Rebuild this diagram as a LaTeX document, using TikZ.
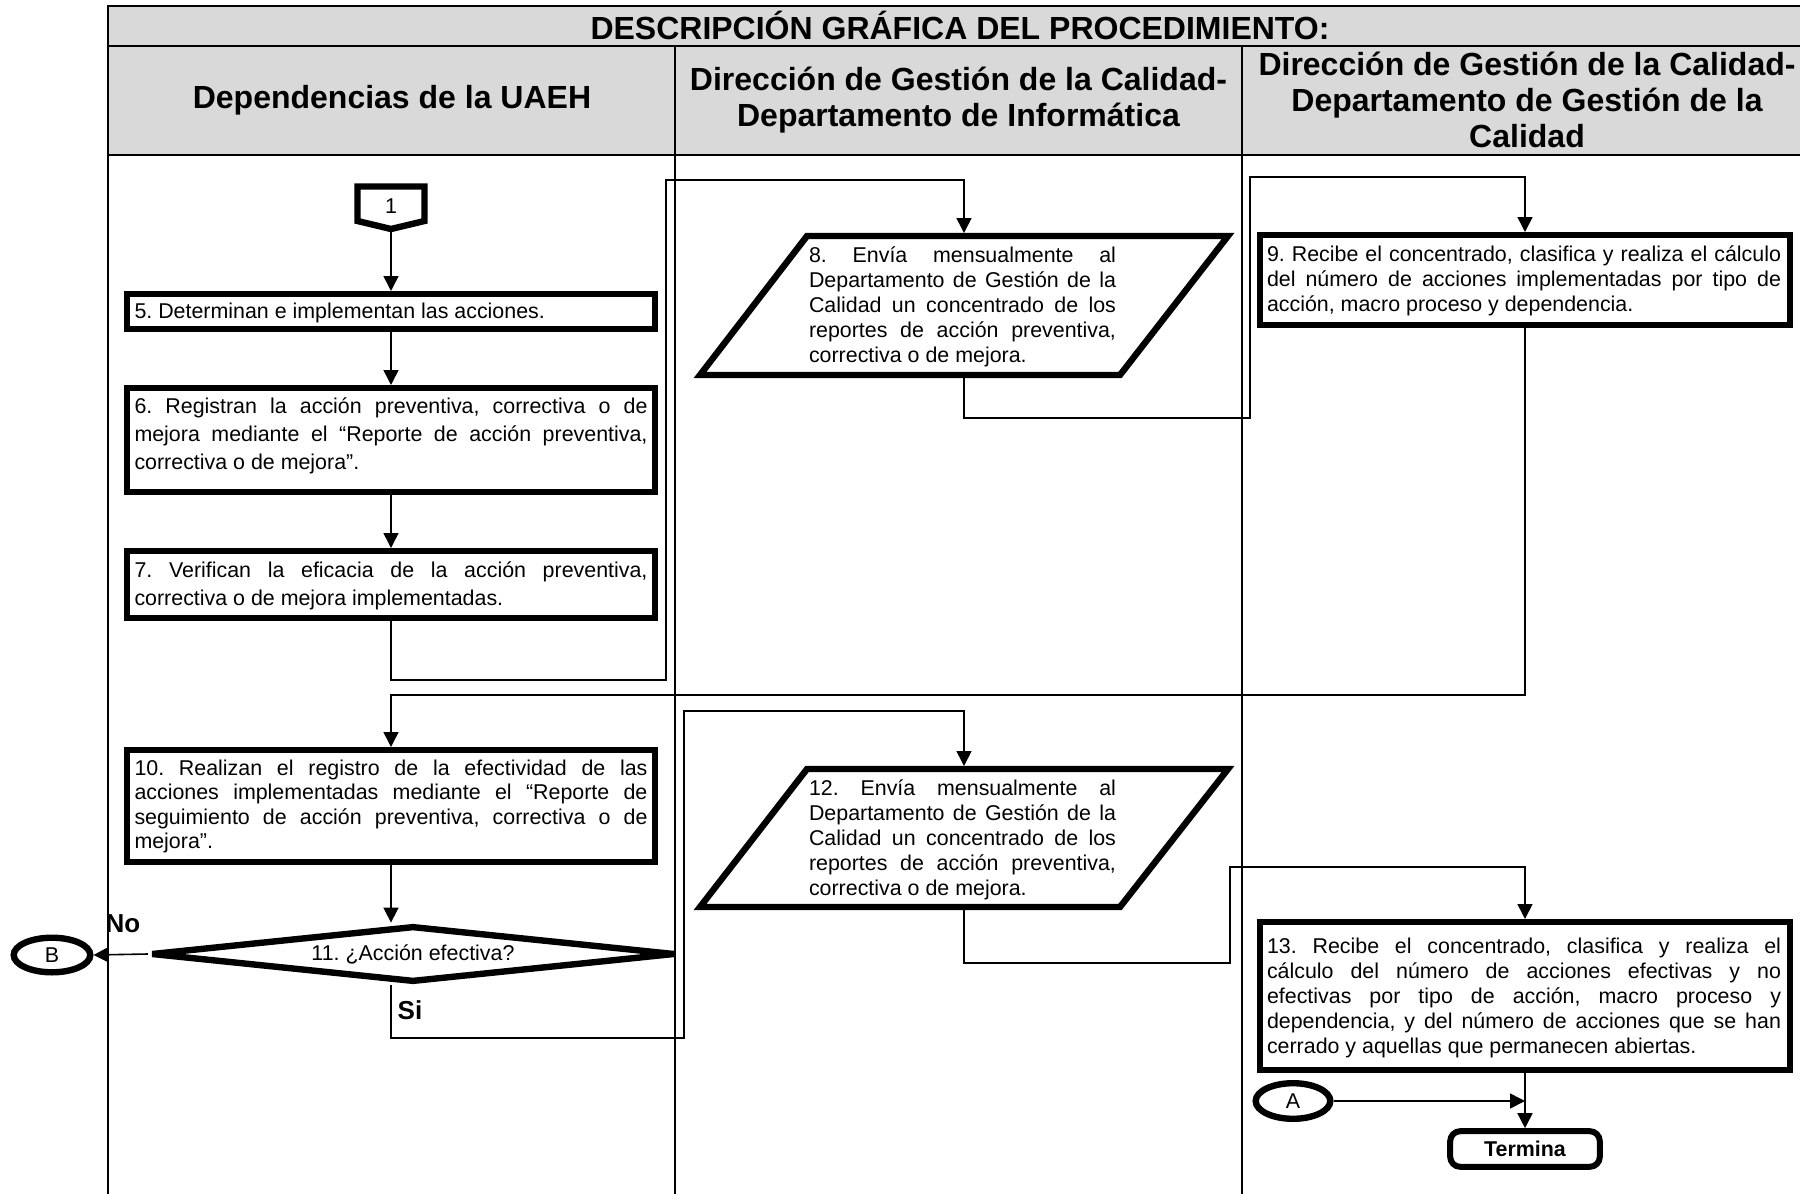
\documentclass[tikz,border=0pt]{standalone}
\usepackage{fontspec}
\setmainfont{Liberation Sans}
\usetikzlibrary{arrows.meta,shapes.geometric}
\definecolor{hdr}{RGB}{217,217,217}
\begin{document}
\frenchspacing
\begin{tikzpicture}[x=0.5pt,y=-0.5pt,
  frame/.style={line width=1.2pt},
  lane/.style={line width=1pt},
  proc/.style={draw,line width=3.2pt,rectangle,inner sep=0pt},
  body/.style={inner sep=0pt,align=justify,font=\fontsize{10.7}{12.5}\selectfont},
  bodyw/.style={inner sep=0pt,align=justify,font=\fontsize{10.7}{14}\selectfont},
  conn/.style={line width=0.8pt},
  arr/.style={conn,-{Triangle[length=7.5pt,width=7.5pt]}},
  head/.style={font=\fontsize{16}{18}\selectfont\bfseries,align=center,inner sep=0pt},
  lbl/.style={font=\fontsize{13}{15}\selectfont\bfseries,inner sep=0pt},
  oval/.style={draw,ellipse,line width=3.2pt,inner sep=0pt,font=\fontsize{10.7}{12.5}\selectfont},
  dec/.style={draw,diamond,line width=3.2pt,line join=bevel,aspect=9.3,minimum width=262pt,minimum height=28.2pt,inner sep=0pt,font=\fontsize{10.7}{12.5}\selectfont},
  thick shape/.style={line width=3.2pt},
]
\useasboundingbox (0,0) rectangle (1800,1194);
\clip (0,0) rectangle (1800,1194);

% frame
\fill[hdr] (108,6) rectangle (1812,155);
\draw[frame] (108,1200) -- (108,6) -- (1812,6) -- (1812,1200);
\draw[frame] (108,46) -- (1812,46);
\draw[frame] (108,155) -- (1812,155);
\draw[frame] (675,46) -- (675,155);
\draw[frame] (1242,46) -- (1242,155);
\draw[lane] (675,155) -- (675,1200);
\draw[lane] (1242,155) -- (1242,1200);

\node[head] (title) at (960,25) {DESCRIPCIÓN GRÁFICA DEL PROCEDIMIENTO:};
\node[head] (h1) at (392,100) {Dependencias de la UAEH};
\node[head] (h2) at (958.5,100) {Dirección de Gestión de la Calidad-\\Departamento de Informática};
\node[head] (h3) at (1527,100) {Dirección de Gestión de la Calidad-\\Departamento de Gestión de la\\Calidad};

% connector 1
\draw[thick shape] (357.5,186.5) -- (424.5,186.5) -- (424.5,221) -- (391,229) -- (357.5,221) -- cycle;
\node[font=\fontsize{10.7}{12.5}\selectfont,inner sep=0pt] (n1) at (391,206) {1};
\coordinate (c1b) at (391,232);

% lane 1 boxes
\node[proc,minimum width=263.8pt,minimum height=17.3pt] (b5) at (391,311.5) {};
\node[body,text width=256.5pt] (t5) at (391,313) {5. Determinan e implementan las acciones.};

\node[proc,minimum width=263.8pt,minimum height=51.8pt] (b6) at (391,440) {};
\node[bodyw,text width=256.5pt] (t6) at (391,436) {6. Registran la acción preventiva, correctiva o de\linebreak mejora mediante el “Reporte de acción preventiva,\linebreak correctiva o de mejora”.};

\node[proc,minimum width=263.8pt,minimum height=33.3pt] (b7) at (391,584.5) {};
\node[bodyw,text width=256.5pt] (t7) at (391,586) {7. Verifican la eficacia de la acción preventiva,\linebreak correctiva o de mejora implementadas.};

\node[proc,minimum width=263.8pt,minimum height=55.8pt] (b10) at (391,806) {};
\node[body,text width=256.5pt,font=\fontsize{10.7}{12.3}\selectfont] (t10) at (391,806.5) {10. Realizan el registro de la efectividad de las\linebreak acciones implementadas mediante el “Reporte de\linebreak seguimiento de acción preventiva, correctiva o de\linebreak mejora”.};

\node[dec] (d) at (413,954) {11. ¿Acción efectiva?};
\node[oval,minimum width=38.3pt,minimum height=17.3pt] (B) at (52,955) {B};
\node[lbl] (no) at (123,924) {No};
\node[lbl] (si) at (410,1010) {Si};

% lane 2 parallelograms
\draw[thick shape] (807,236) -- (1228,236) -- (1120,375) -- (700,375) -- cycle;
\coordinate (p8n) at (964,233);
\coordinate (p8s) at (964,378);
\node[body,text width=153.5pt] (t8) at (962.5,307) {8. Envía mensualmente al\linebreak Departamento de Gestión de la\linebreak Calidad un concentrado de los\linebreak reportes de acción preventiva,\linebreak correctiva o de mejora.};

\draw[thick shape] (807,769) -- (1228,769) -- (1120,907) -- (700,907) -- cycle;
\coordinate (p12n) at (964,766);
\coordinate (p12s) at (964,910);
\node[body,text width=153.5pt] (t12) at (962.5,839.5) {12. Envía mensualmente al\linebreak Departamento de Gestión de la\linebreak Calidad un concentrado de los\linebreak reportes de acción preventiva,\linebreak correctiva o de mejora.};

% lane 3
\node[proc,minimum width=264.8pt,minimum height=44.8pt] (b9) at (1525,280) {};
\node[body,text width=257pt] (t9) at (1524,281) {9. Recibe el concentrado, clasifica y realiza el cálculo\linebreak del número de acciones implementadas por tipo de\linebreak acción, macro proceso y dependencia.};

\node[proc,minimum width=264.8pt,minimum height=73.8pt] (b13) at (1525,996) {};
\node[body,text width=257pt] (t13) at (1524,998) {13. Recibe el concentrado, clasifica y realiza el\linebreak cálculo del número de acciones efectivas y no\linebreak efectivas por tipo de acción, macro proceso y\linebreak dependencia, y del número de acciones que se han\linebreak cerrado y aquellas que permanecen abiertas.};

\node[oval,minimum width=37.3pt,minimum height=17.8pt] (A) at (1293,1101) {A};
\node[draw,rounded corners=5pt,line width=3pt,minimum width=74.8pt,minimum height=17.8pt,inner sep=0pt,font=\fontsize{10.7}{12.5}\selectfont\bfseries] (T) at (1525,1149) {Termina};

% connectors
\draw[arr] (c1b) -- (b5.north);
\draw[arr] (b5.south) -- (b6.north);
\draw[arr] (b6.south) -- (b7.north);
\coordinate (r1) at (666,680);
\coordinate (r2) at (666,180);
\draw[arr] (b7.south) |- (r1) -- (r2) -| (p8n);
\coordinate (r3) at (1250,418);
\coordinate (r4) at (1250,177);
\draw[arr] (p8s) |- (r3) -- (r4) -| (b9.north);
\coordinate (r5) at (391,695);
\draw[arr] (b9.south) |- (r5) -- (b10.north);
\draw[arr] (b10.south) -- (b10.south |- d.north);
\draw[arr] (d.west) -- (B.east);
\coordinate (r6) at (684,1038);
\coordinate (r7) at (684,711);
\draw[arr] (b10.south |- d.south) |- (r6) -- (r7) -| (p12n);
\coordinate (r8) at (1230,963);
\coordinate (r9) at (1230,867);
\draw[arr] (p12s) |- (r8) -- (r9) -| (b13.north);
\draw[arr] (b13.south) -- (T.north);
\draw[arr] (A.east) -- (A.east -| b13.south);
\end{tikzpicture}
\end{document}
